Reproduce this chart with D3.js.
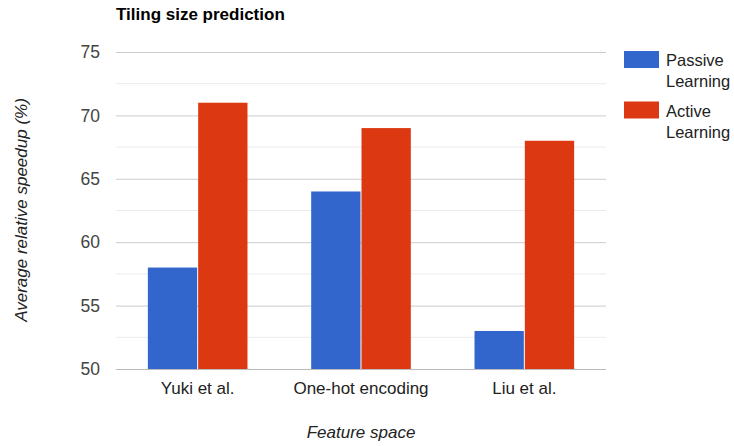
<!DOCTYPE html>
<html><head><meta charset="utf-8">
<script src="https://cdn.jsdelivr.net/npm/d3@7"></script>
<style>body{margin:0;background:#fff}svg{display:block;font-family:Arial,"Liberation Sans",Helvetica,sans-serif}</style>
</head><body><svg id="c" width="734" height="446"></svg>
<script>
const categories = ["Yuki et al.", "One-hot encoding", "Liu et al."];
const seriesNames = ["Passive Learning", "Active Learning"];
const passive = [58, 64, 53];
const active = [71, 69, 68];
const yTicks = [50, 55, 60, 65, 70, 75];
const colors = ["#3366cc", "#dc3912"];

const svg = d3.select("#c");
const m = {left:116, right:606, top:52, bottom:369};
const x = d3.scaleBand().domain(categories).range([m.left, m.right]).paddingInner(0.39).paddingOuter(0.195);
const y = d3.scaleLinear().domain([50, 75]).range([m.bottom, m.top]);
const xs = d3.scaleBand().domain([0,1]).range([0, x.bandwidth()]).paddingInner(0.02);

// minor gridlines
const minor = d3.range(52.5, 75, 5);
svg.append("g").selectAll("line").data(minor).join("line")
  .attr("x1", m.left).attr("x2", m.right).attr("y1", d=>y(d)).attr("y2", d=>y(d))
  .attr("stroke", "#ebebeb").attr("stroke-width", 1);

const yAxis = d3.axisLeft(y).tickValues(yTicks).tickSize(-(m.right-m.left)).tickPadding(16);
const gy = svg.append("g").attr("transform", `translate(${m.left},0)`).call(yAxis);
gy.select(".domain").remove();
gy.selectAll(".tick line").attr("stroke", d => d===50 ? "#bbb" : "#ccc");
gy.selectAll(".tick text").attr("fill", "#444").attr("font-size", 17.5).attr("font-family", "Arial, 'Liberation Sans', sans-serif");

const data = categories.map((c,i)=>({c, v:[passive[i], active[i]]}));
const g = svg.append("g");
data.forEach(d=>{
  d.v.forEach((v,j)=>{
    g.append("rect")
      .attr("x", x(d.c)+xs(j)).attr("width", xs.bandwidth())
      .attr("y", y(v)).attr("height", y(50)-y(v))
      .attr("fill", colors[j]);
  });
});

const xAxis = d3.axisBottom(x).tickSize(0).tickPadding(13);
const gx = svg.append("g").attr("transform", `translate(0,${m.bottom})`).call(xAxis);
gx.select(".domain").remove();
gx.selectAll(".tick text").attr("fill", "#222").attr("font-size", 17).attr("font-family", "Arial, 'Liberation Sans', sans-serif");

svg.append("text").attr("x", 116).attr("y", 20).attr("font-weight", "bold").attr("font-size", 17).attr("fill", "#000").text("Tiling size prediction");

svg.append("text").attr("transform", "translate(27,210) rotate(-90)").attr("text-anchor", "middle")
  .attr("font-style", "italic").attr("font-size", 17).attr("fill", "#222").text("Average relative speedup (%)");
svg.append("text").attr("x", 361).attr("y", 438).attr("text-anchor", "middle")
  .attr("font-style", "italic").attr("font-size", 17).attr("fill", "#222").text("Feature space");

const leg = svg.append("g");
seriesNames.forEach((s,i)=>{
  const yy = 51 + i*50.5;
  leg.append("rect").attr("x", 624).attr("y", yy).attr("width", 35).attr("height", 17).attr("fill", colors[i]);
  const words = s.split(" ");
  words.forEach((w,k)=>{
    leg.append("text").attr("x", 666).attr("y", yy + 15 + k*21).attr("font-size", 16.5).attr("fill", "#222").text(w);
  });
});
</script></body></html>
